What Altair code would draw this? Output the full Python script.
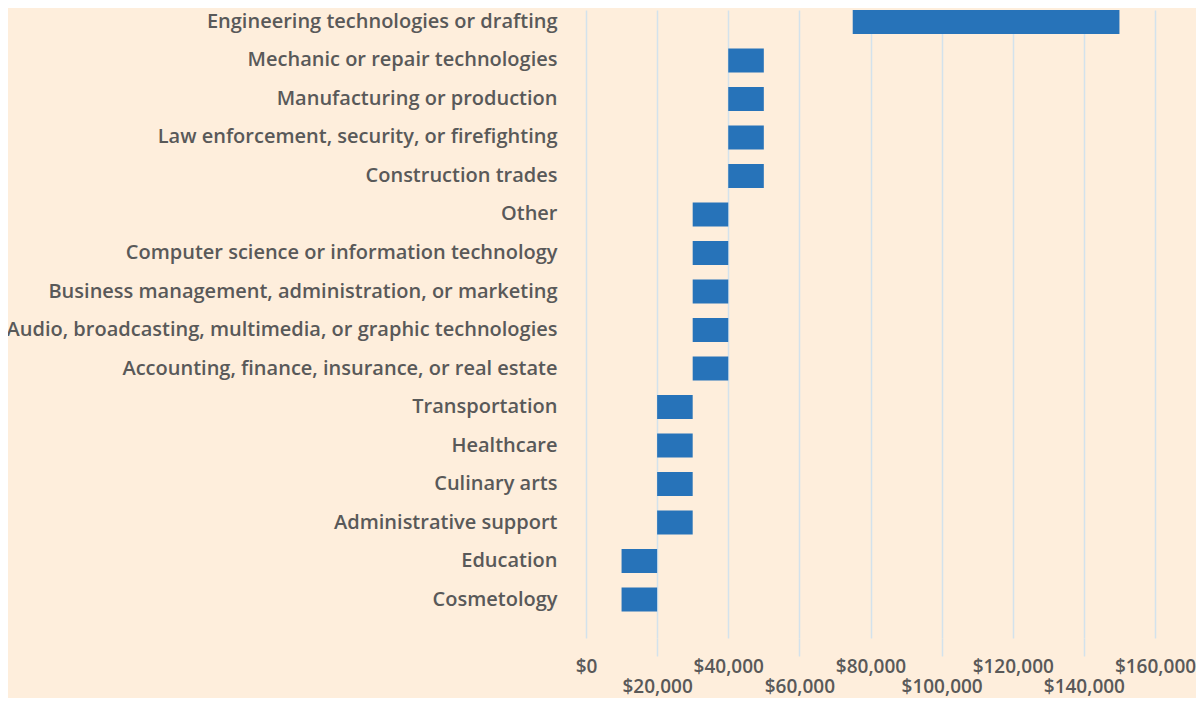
import altair as alt
import pandas as pd

categories = [
    "Engineering technologies or drafting",
    "Mechanic or repair technologies",
    "Manufacturing or production",
    "Law enforcement, security, or firefighting",
    "Construction trades",
    "Other",
    "Computer science or information technology",
    "Business management, administration, or marketing",
    "Audio, broadcasting, multimedia, or graphic technologies",
    "Accounting, finance, insurance, or real estate",
    "Transportation",
    "Healthcare",
    "Culinary arts",
    "Administrative support",
    "Education",
    "Cosmetology",
]
low_values = [75000, 40000, 40000, 40000, 40000, 30000, 30000, 30000, 30000, 30000,
              20000, 20000, 20000, 20000, 10000, 10000]
high_values = [150000, 50000, 50000, 50000, 50000, 40000, 40000, 40000, 40000, 40000,
               30000, 30000, 30000, 30000, 20000, 20000]
tick_values = [0, 20000, 40000, 60000, 80000, 100000, 120000, 140000, 160000]

df = pd.DataFrame({"category": categories, "low": low_values, "high": high_values})

FONT = "Open Sans"
TEXT = "#595959"
GRID = "#D3E2EC"

chart = alt.Chart(df).mark_bar(color="#2773B9").encode(
    y=alt.Y(
        "category:N",
        sort=categories,
        title=None,
        scale=alt.Scale(paddingInner=0.378, paddingOuter=0.344, align=0),
        axis=alt.Axis(
            ticks=False, domain=False, grid=False,
            labelFont=FONT, labelFontSize=20, labelFontWeight=600,
            labelColor=TEXT, labelPadding=29, labelLimit=1000,
        ),
    ),
    x=alt.X(
        "low:Q",
        title=None,
        scale=alt.Scale(domain=[0, 160000], nice=False),
        axis=alt.Axis(
            values=tick_values, format="$,.0f", domain=False,
            grid=True, gridColor=GRID, gridWidth=1.5,
            ticks=True, tickColor=GRID, tickWidth=1.5,
            tickSize={"expr": "datum.value % 40000 == 0 ? 0 : 18"},
            labelPadding={"expr": "datum.value % 40000 == 0 ? 19 : 21"},
            labelFont=FONT, labelFontSize=19, labelFontWeight=600,
            labelColor=TEXT, labelFlush=False, labelOverlap=False,
        ),
    ),
    x2="high:Q",
).properties(
    width=569,
    height=628,
    background="#FEEEDC",
    padding={"left": 578, "top": 2, "right": 41, "bottom": 60},
    autosize=alt.AutoSizeParams(type="none"),
).configure_view(stroke=None)

chart.save("out.html", embed_options={"renderer": "svg", "actions": False})
